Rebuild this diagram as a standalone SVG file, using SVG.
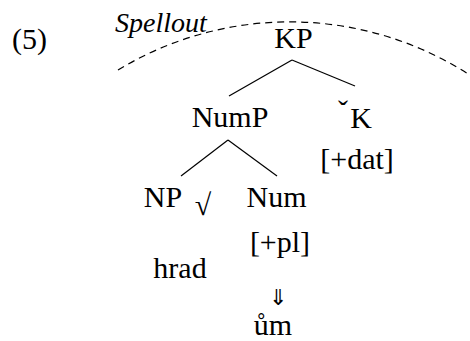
<svg xmlns="http://www.w3.org/2000/svg" width="470" height="341" viewBox="0 0 470 341">
<rect width="470" height="341" fill="#fff"/>
<g id="label-5"><text font-family="Liberation Serif" font-size="30" x="12" y="49">(5)</text></g>
<g id="spellout">
<path d="M118,70 A331,331 0 0,1 475,78.5" stroke="#000" stroke-width="1.2" fill="none" stroke-dasharray="7 5"/>
<text font-family="Liberation Serif" font-size="28" font-style="italic" x="115" y="32">Spellout</text>
</g>
<g id="connectors" stroke="#000" stroke-width="1.2" fill="none">
<line x1="292" y1="60" x2="229" y2="96"/>
<line x1="292" y1="60" x2="355" y2="86"/>
<line x1="228" y1="140" x2="181" y2="176"/>
<line x1="228" y1="140" x2="277" y2="176"/>
</g>
<g id="KP"><text font-family="Liberation Serif" font-size="30" text-anchor="middle" x="293.5" y="48">KP</text></g>
<g id="NumP"><text font-family="Liberation Serif" font-size="30" text-anchor="middle" x="230" y="127">NumP</text></g>
<g id="K">
<text font-family="Liberation Serif" font-size="30" text-anchor="middle" x="343" y="121">&#x2C7;</text>
<text font-family="Liberation Serif" font-size="30" text-anchor="middle" x="361" y="128">K</text>
<text font-family="Liberation Serif" font-size="30" text-anchor="middle" x="357" y="169">[+dat]</text>
</g>
<g id="NP">
<text font-family="Liberation Serif" font-size="30" text-anchor="middle" x="163" y="207">NP</text>
<text font-family="Liberation Serif" font-size="30" text-anchor="middle" x="203" y="215">&#x221A;</text>
<text font-family="Liberation Serif" font-size="30" text-anchor="middle" x="180" y="278">hrad</text>
</g>
<g id="Num">
<text font-family="Liberation Serif" font-size="30" text-anchor="middle" x="276.5" y="207">Num</text>
<text font-family="Liberation Serif" font-size="30" text-anchor="middle" x="280" y="252">[+pl]</text>
<text font-family="Liberation Serif" font-size="22" text-anchor="middle" x="278" y="305">&#x21D3;</text>
<text font-family="Liberation Serif" font-size="30" text-anchor="middle" x="273" y="335">&#x16F;m</text>
</g>
</svg>
